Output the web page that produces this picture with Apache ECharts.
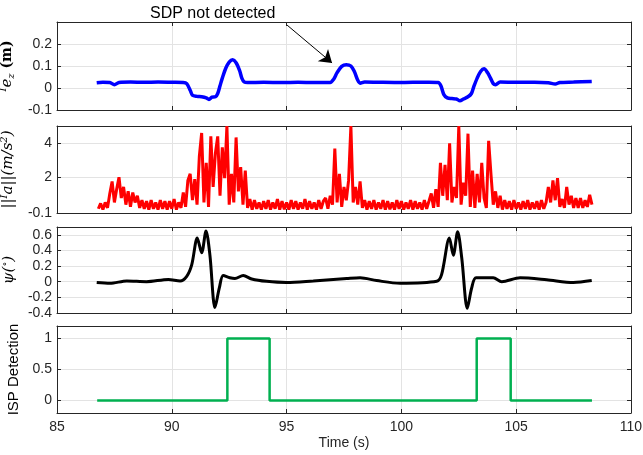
<!DOCTYPE html>
<html>
<head>
<meta charset="utf-8">
<script src="https://cdn.jsdelivr.net/npm/echarts@6/dist/echarts.min.js"></script>
<style>
  html, body { margin: 0; padding: 0; background: #fff; }
  #chartData { width: 643px; height: 455px; }
</style>
</head>
<body>
<div id="chartData"></div>
<script>
// 位置数据 e_z (m), [time, value]
var ezData = [
  [86.73,0.024],[87.0,0.026],[87.3,0.025],[87.5,0.015],[87.7,0.025],[88.2,0.027],[88.8,0.026],
  [89.4,0.027],[90.0,0.026],[90.5,0.025],[90.65,0.02],[90.8,-0.01],[90.9,-0.033],[91.1,-0.038],
  [91.3,-0.04],[91.5,-0.045],[91.62,-0.052],[91.75,-0.042],[91.9,-0.04],[92.0,-0.025],[92.1,0.01],
  [92.2,0.045],[92.35,0.09],[92.5,0.118],[92.65,0.128],[92.8,0.115],[92.95,0.08],[93.05,0.045],
  [93.15,0.028],[93.3,0.025],[94.0,0.026],[94.8,0.025],[95.5,0.026],[96.2,0.025],[96.9,0.025],
  [97.05,0.04],[97.2,0.07],[97.4,0.098],[97.6,0.106],[97.8,0.1],[97.95,0.075],[98.1,0.035],
  [98.2,0.022],[98.4,0.027],[99.0,0.026],[99.8,0.025],[100.5,0.026],[101.2,0.026],[101.6,0.025],
  [101.72,0.01],[101.85,-0.03],[102.0,-0.045],[102.2,-0.048],[102.4,-0.05],[102.55,-0.058],
  [102.7,-0.05],[102.9,-0.04],[103.05,-0.025],[103.15,0.005],[103.3,0.045],[103.45,0.075],
  [103.6,0.087],[103.75,0.07],[103.88,0.045],[104.0,0.02],[104.1,0.015],[104.3,0.027],
  [105.0,0.026],[105.8,0.026],[106.4,0.024],[106.7,0.018],[106.9,0.025],[107.5,0.027],[108.29,0.03]
];

// 加速度 ||a||, one value every 0.1 s starting at 86.8 s
var accelStart = 86.8;
var accelStep = 0.1;
var accelValues = [
  0.15, 0.46,
  0.1, 0.52, 0.2, 1.04, 1.75, 0.52, 1.3, 2.0, 0.78, 1.43,     // 87
  0.39, 1.17, 0.26, 1.1, 0.52, 0.91, 0.2, 0.65, 0.15, 0.59,   // 88
  0.1, 0.65, 0.15, 0.52, 0.1, 0.65, 0.15, 0.59, 0.1, 0.59,    // 89
  0.15, 0.72, 0.1, 0.52, 0.2, 1.1, 0.26, 1.81, 2.2, 0.65,     // 90
  1.88, 0.39, 3.23, 4.59, 0.52, 2.84, 0.26, 4.39, 1.43, 3.42, // 91
  4.39, 0.91, 3.75, 1.94, 5.0, 0.39, 2.2, 0.52, 4.33, 1.17,   // 92
  2.59, 0.39, 2.39, 0.2, 0.72, 0.1, 0.65, 0.15, 0.52, 0.1,    // 93
  0.59, 0.15, 0.65, 0.1, 0.52, 0.15, 0.72, 0.1, 0.59, 0.12,   // 94
  0.52, 0.1, 0.65, 0.15, 0.59, 0.1, 0.52, 0.15, 0.72, 0.1,    // 95
  0.59, 0.15, 0.52, 0.1, 0.65, 0.15, 0.59, 0.78, 0.15, 0.91,  // 96
  0.39, 3.68, 0.52, 2.2, 0.26, 1.43, 0.65, 1.81, 5.0, 0.52,   // 97
  1.43, 0.39, 1.75, 0.2, 0.65, 0.1, 0.59, 0.15, 0.65, 0.1,    // 98
  0.52, 0.15, 0.65, 0.1, 0.59, 0.12, 0.52, 0.1, 0.65, 0.15,   // 99
  0.59, 0.1, 0.52, 0.15, 0.65, 0.1, 0.59, 0.15, 0.52, 0.1,    // 100
  0.65, 0.15, 0.59, 1.04, 0.2, 1.3, 0.26, 2.84, 0.91, 2.72,   // 101
  0.65, 3.98, 0.52, 1.43, 0.78, 5.0, 0.39, 1.68, 0.91, 4.55,  // 102
  0.26, 2.39, 0.2, 2.2, 0.52, 2.84, 0.78, 0.2, 4.13, 2.2,     // 103
  0.39, 1.17, 0.2, 0.91, 0.1, 0.65, 0.15, 0.59, 0.1, 0.65,    // 104
  0.15, 0.52, 0.1, 0.59, 0.15, 0.65, 0.1, 0.52, 0.15, 0.59,   // 105
  0.1, 0.65, 0.15, 0.52, 1.43, 0.52, 1.81, 0.65, 1.94, 0.26,  // 106
  0.72, 0.2, 1.43, 0.39, 0.91, 0.2, 0.78, 0.2, 0.78, 0.2,     // 107
  0.65, 0.26, 0.97, 0.39                                      // 108
];

// 偏航角 psi (deg)
var psiData = [
  [86.73,-0.01],[87.31,-0.02],[88.04,0.01],[88.9,0.0],[89.85,0.03],[90.36,0.01],[90.65,0.07],
  [90.87,0.22],[91.11,0.56],[91.3,0.37],[91.49,0.65],[91.66,0.34],[91.88,-0.33],[92.07,-0.08],
  [92.24,0.08],[92.53,0.05],[92.75,0.04],[93.11,0.08],[93.48,0.035],[94.13,0.005],[95.0,-0.01],
  [96.16,0.01],[97.62,0.04],[98.2,0.05],[98.92,0.015],[99.94,-0.02],[101.54,0.005],[101.75,0.09],
  [102.09,0.56],[102.26,0.34],[102.45,0.64],[102.63,0.3],[102.87,-0.34],[103.06,-0.08],
  [103.25,0.05],[104.0,0.05],[104.37,0.0],[105.17,0.05],[106.33,0.025],[107.49,-0.01],[108.29,0.015]
];

// ISP 检测结果
var ispData = [
  [86.75,0],[92.42,0],[92.42,1],[94.26,1],[94.26,0],
  [103.28,0],[103.28,1],[104.76,1],[104.76,0],[108.3,0]
];

// 刻度
var xTicks = { min: 85, max: 110, interval: 5 };
var ezTicks = [-0.1, 0, 0.1, 0.2];
var accelTicks = [-0.1, 2, 4];
var psiTicks = [-0.4, -0.2, 0, 0.2, 0.4, 0.6];
var ispTicks = [0, 0.5, 1];

var accelData = accelValues.map(function (v, i) {
    return [Math.round((accelStart + i * accelStep) * 10) / 10, v];
});

var axisColor = '#262626';
var gridColor = '#e3e3e3';
var sans = 'Liberation Sans';
var serif = 'DejaVu Serif';

var grids = [
    { left: 57, right: 12, top: 22, height: 88, outerBoundsMode: 'none' },
    { left: 57, right: 12, top: 126, height: 87, outerBoundsMode: 'none' },
    { left: 57, right: 12, top: 227, height: 86, outerBoundsMode: 'none' },
    { left: 57, right: 12, top: 326, height: 87, outerBoundsMode: 'none' }
];

var yRanges = [
    { min: -0.1, max: 0.3, ticks: ezTicks, gap: 41 },
    { min: -0.1, max: 5, ticks: accelTicks, gap: 40 },
    { min: -0.4, max: 0.7, ticks: psiTicks, gap: 38 },
    { min: -0.2, max: 1.2, ticks: ispTicks, gap: 34 }
];

var yNames = [
    '{sup|I}{it|e}{sub|z}{bf| (m)}',
    '{it|||}{sup|I}{it|a||(m/s}{sup|2}{it|)}',
    '{it|ψ(}{deg|∘}{it|)}',
    '{sans|ISP Detection}'
];

var nameRich = {
    it: { fontFamily: serif, fontStyle: 'italic', fontSize: 15, color: '#000', lineHeight: 18 },
    bf: { fontFamily: serif, fontSize: 14, fontWeight: 'bold', color: '#000', lineHeight: 18 },
    deg: { fontFamily: serif, fontSize: 10, color: '#000', verticalAlign: 'top', lineHeight: 12 },
    sup: { fontFamily: serif, fontStyle: 'italic', fontSize: 10, color: '#000', verticalAlign: 'top', lineHeight: 11 },
    sub: { fontFamily: serif, fontStyle: 'italic', fontSize: 10, color: '#000', verticalAlign: 'bottom', lineHeight: 11 },
    sans: { fontFamily: sans, fontSize: 15, color: '#000' }
};

var xAxes = [];
var yAxes = [];
grids.forEach(function (g, i) {
    var last = i === grids.length - 1;
    xAxes.push({
        type: 'value', gridIndex: i, position: 'bottom',
        min: xTicks.min, max: xTicks.max, interval: xTicks.interval,
        axisLine: { onZero: false, lineStyle: { color: axisColor, width: 1 } },
        axisTick: { inside: true, length: 4, lineStyle: { color: axisColor } },
        axisLabel: { show: last, color: axisColor, fontFamily: sans, fontSize: 14, margin: 7 },
        splitLine: { show: true, lineStyle: { color: gridColor, width: 1 } },
        name: last ? 'Time (s)' : '',
        nameLocation: 'middle', nameGap: 23,
        nameTextStyle: { color: axisColor, fontFamily: sans, fontSize: 14 }
    });
    xAxes.push({
        type: 'value', gridIndex: i, position: 'top',
        min: xTicks.min, max: xTicks.max, interval: xTicks.interval,
        axisLine: { onZero: false, lineStyle: { color: axisColor, width: 1 } },
        axisTick: { inside: true, length: 4, lineStyle: { color: axisColor } },
        axisLabel: { show: false },
        splitLine: { show: false }
    });
    var r = yRanges[i];
    yAxes.push({
        type: 'value', gridIndex: i, position: 'left',
        min: r.min, max: r.max,
        axisLine: { show: true, onZero: false, lineStyle: { color: axisColor, width: 1 } },
        axisTick: { show: true, inside: true, length: 4, customValues: r.ticks, lineStyle: { color: axisColor } },
        axisLabel: {
            color: axisColor, fontFamily: sans, fontSize: 14, margin: 5, customValues: r.ticks,
            formatter: function (v) { return String(Math.round(v * 10) / 10); }
        },
        splitLine: { show: true, lineStyle: { color: gridColor, width: 1 } },
        name: yNames[i], nameLocation: 'middle', nameRotate: 90, nameGap: r.gap,
        nameTextStyle: { rich: nameRich }
    });
    yAxes.push({
        type: 'value', gridIndex: i, position: 'right',
        min: r.min, max: r.max,
        axisLine: { show: true, onZero: false, lineStyle: { color: axisColor, width: 1 } },
        axisTick: { show: true, inside: true, length: 4, customValues: r.ticks, lineStyle: { color: axisColor } },
        axisLabel: { show: false, customValues: r.ticks },
        splitLine: { show: false }
    });
});

var myChart = echarts.init(document.getElementById('chartData'));

var option = {
    animation: false,
    backgroundColor: '#fff',
    grid: grids,
    xAxis: xAxes,
    yAxis: yAxes,
    graphic: [{
        type: 'text', left: 150, top: 6,
        style: { text: 'SDP not detected', fill: '#000', font: '16px "Liberation Sans"' }
    }],
    series: [
        {
            type: 'line', xAxisIndex: 0, yAxisIndex: 0, data: ezData,
            showSymbol: false, smooth: 0.3,
            lineStyle: { color: '#0000ff', width: 3.5 },
            markLine: {
                silent: true, symbol: ['none', 'arrow'], symbolSize: 12,
                label: { show: false },
                lineStyle: { color: '#000', width: 1, type: 'solid' },
                data: [[{ coord: [95.02, 0.286] }, { coord: [96.98, 0.114] }]]
            }
        },
        {
            type: 'line', xAxisIndex: 2, yAxisIndex: 2, data: accelData,
            showSymbol: false,
            lineStyle: { color: '#ff0000', width: 3 }
        },
        {
            type: 'line', xAxisIndex: 4, yAxisIndex: 4, data: psiData,
            showSymbol: false, smooth: 0.3,
            lineStyle: { color: '#000', width: 3 }
        },
        {
            type: 'line', xAxisIndex: 6, yAxisIndex: 6, data: ispData,
            showSymbol: false,
            lineStyle: { color: '#00b050', width: 2.5 }
        }
    ]
};

myChart.setOption(option);
</script>
</body>
</html>
